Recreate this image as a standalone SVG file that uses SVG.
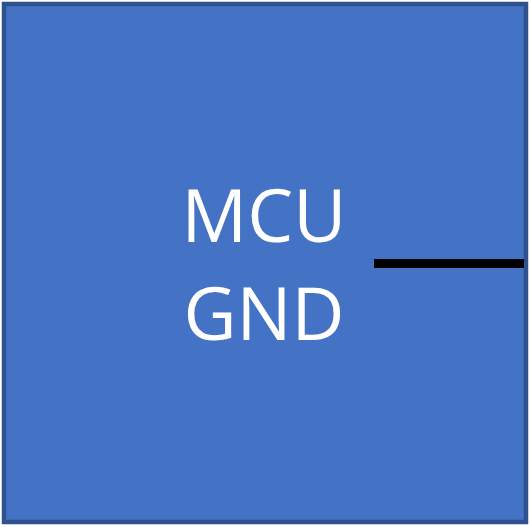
<svg xmlns="http://www.w3.org/2000/svg" width="531" height="527" viewBox="0 0 531 527">
<style>
.box{fill:#4472C4;stroke:#2F528F;stroke-width:4.5}
.lbl{fill:#FFFFFF;font-family:"Open Sans","Noto Sans",sans-serif;font-size:73px;text-anchor:middle}
.pin{stroke:#000000;stroke-width:9;fill:none}
</style>
<g id="mcu">
<rect class="box" x="4" y="4" width="522" height="518"/>
<text class="lbl" x="264" y="242">MCU</text>
<text class="lbl" x="264" y="340">GND</text>
</g>
<g id="connectors">
<line class="pin" x1="374" y1="263.5" x2="524" y2="263.5"/>
</g>
</svg>
